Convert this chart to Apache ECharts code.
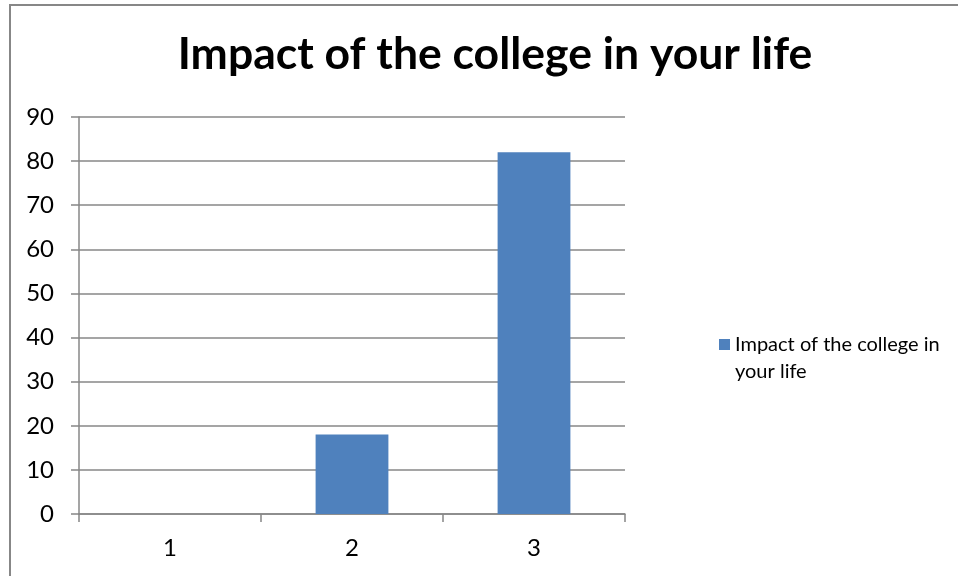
<!DOCTYPE html>
<html>
<head>
<meta charset="utf-8">
<script src="https://cdn.jsdelivr.net/npm/echarts@6/dist/echarts.min.js"></script>
<style>
  html, body { margin: 0; padding: 0; background: #fff; overflow: hidden; }
  #frame {
    position: absolute; left: 9px; top: 4px; width: 1000px; height: 620px;
    border-left: 2px solid #878787; border-top: 2px solid #878787;
  }
  #chart { position: absolute; left: 0; top: 0; width: 958px; height: 576px; }
</style>
</head>
<body>
<div id="frame"></div>
<div id="chart"></div>
<script>
const categories = ['1', '2', '3']
const seriesName = 'Impact of the college in your life'
const values = [0, 18, 82]

const chart = echarts.init(document.getElementById('chart'))

const option = {
  animation: false,
  title: {
    text: 'Impact of the college in your life',
    left: 490,
    textAlign: 'center',
    top: 27,
    textStyle: {
      fontFamily: 'Lato',
      fontSize: 44.5,
      fontWeight: 'bold',
      color: '#000'
    }
  },
  legend: {
    data: [seriesName],
    left: 719,
    top: 304,
    padding: 0,
    icon: 'rect',
    itemWidth: 11,
    itemHeight: 11,
    itemGap: 8,
    // blank first line keeps the marker level with the first text line
    formatter: () => ' \nImpact of the college in\nyour life',
    textStyle: {
      fontFamily: 'Lato',
      fontSize: 20,
      color: '#000',
      lineHeight: 27
    }
  },
  grid: {
    left: 79,
    right: 333,
    top: 117,
    bottom: 62,
    containLabel: false
  },
  xAxis: {
    type: 'category',
    data: categories,
    axisLine: { lineStyle: { color: '#878787', width: 1.5 } },
    axisTick: { show: true, length: 8, lineStyle: { color: '#878787', width: 1.5 } },
    axisLabel: {
      fontFamily: 'Lato',
      fontSize: 24,
      color: '#000',
      margin: 22
    }
  },
  yAxis: {
    type: 'value',
    min: 0,
    max: 90,
    interval: 10,
    axisLine: { show: true, lineStyle: { color: '#878787', width: 1.5 } },
    axisTick: { show: true, length: 8, lineStyle: { color: '#878787', width: 1.5 } },
    axisLabel: {
      fontFamily: 'Lato',
      fontSize: 24,
      color: '#000',
      margin: 25
    },
    splitLine: { show: true, lineStyle: { color: '#878787', width: 1.5 } }
  },
  series: [
    {
      name: seriesName,
      type: 'bar',
      data: values,
      barWidth: '40%',
      itemStyle: { color: '#4F81BD' }
    }
  ]
}

chart.setOption(option)
</script>
</body>
</html>
